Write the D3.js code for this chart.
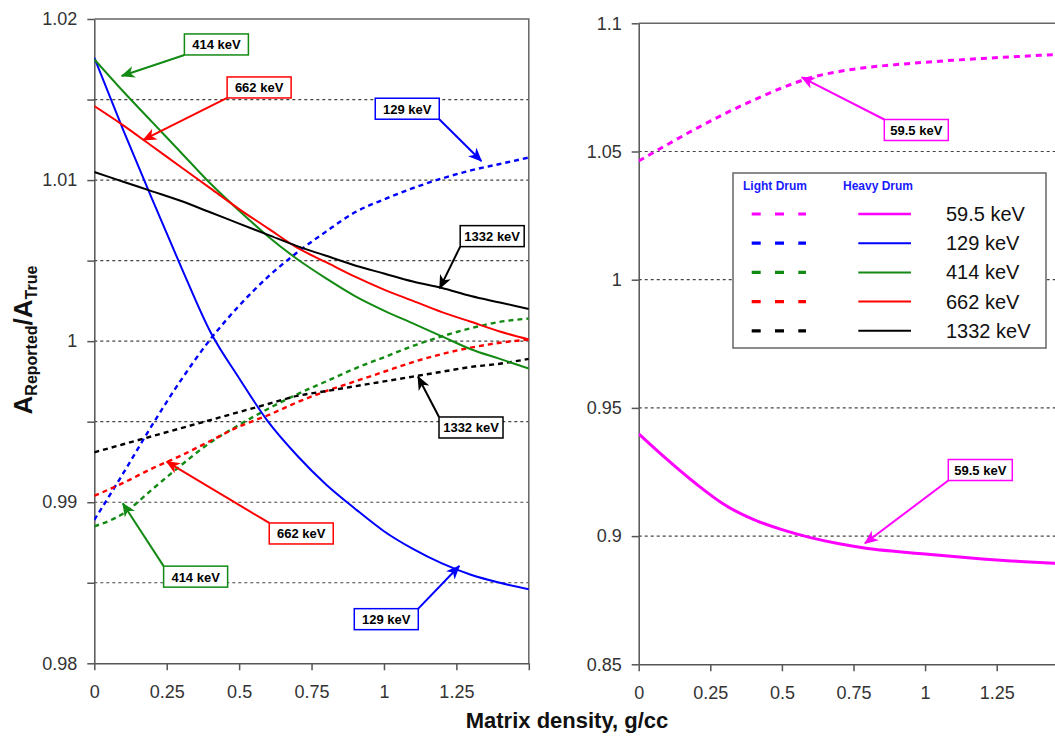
<!DOCTYPE html>
<html>
<head>
<meta charset="utf-8">
<script src="https://cdn.jsdelivr.net/npm/d3@7"></script>
<style>
  body { margin: 0; background: #fff; }
  svg { display: block; }
  text { font-family: "Liberation Sans", Arial, sans-serif; }
</style>
</head>
<body>
<div id="chart"></div>
<script>
// ━━━━━━━━━━━━━━━━━━━━━━━━━━━━━━━━━━━━━━━━━━━━━━━━━━━━━━━━━━━━━━━━━━━━━━━━━━━━━━
// Data ////////////////////////////////////////////////////
// ━━━━━━━━━━━━━━━━━━━━━━━━━━━━━━━━━━━━━━━━━━━━━━━━━━━━━━━━━━━━━━━━━━━━━━━━━━━━━━

const density = [0, 0.1, 0.2, 0.3, 0.4, 0.5, 0.6, 0.7, 0.8, 0.9, 1.0, 1.1, 1.2, 1.3, 1.4, 1.5];

// heavy drum (solid)
const heavy_129  = [1.0176, 1.0131, 1.0088, 1.0046, 1.0006, 0.9977, 0.9950, 0.9929, 0.9911, 0.9896, 0.9882, 0.9871, 0.9862, 0.9855, 0.9850, 0.9846];
const heavy_414  = [1.0175, 1.0155, 1.0136, 1.0117, 1.0098, 1.0081, 1.0065, 1.0051, 1.0039, 1.0028, 1.0019, 1.0011, 1.0003, 0.9995, 0.9989, 0.9983];
const heavy_662  = [1.0146, 1.0134, 1.0121, 1.0108, 1.0095, 1.0082, 1.0070, 1.0058, 1.0049, 1.0040, 1.0032, 1.0025, 1.0018, 1.0012, 1.0006, 1.0001];
const heavy_1332 = [1.0105, 1.0099, 1.0093, 1.0087, 1.0080, 1.0073, 1.0066, 1.0059, 1.0053, 1.0047, 1.0042, 1.0037, 1.0033, 1.0028, 1.0024, 1.0020];
const heavy_59   = [0.9399, 0.9298, 0.9204, 0.9122, 0.9065, 0.9025, 0.8994, 0.8970, 0.8952, 0.8940, 0.8930, 0.8920, 0.8911, 0.8903, 0.8897, 0.8891];

// light drum (dashed)
const light_129  = [0.9889, 0.9918, 0.9948, 0.9976, 1.0001, 1.0022, 1.0040, 1.0055, 1.0068, 1.0080, 1.0088, 1.0095, 1.0101, 1.0106, 1.0110, 1.0114];
const light_414  = [0.9885, 0.9893, 0.9908, 0.9923, 0.9937, 0.9948, 0.9958, 0.9967, 0.9975, 0.9983, 0.9990, 0.9997, 1.0003, 1.0008, 1.0012, 1.0014];
const light_662  = [0.9904, 0.9912, 0.9921, 0.9929, 0.9938, 0.9947, 0.9954, 0.9962, 0.9969, 0.9975, 0.9981, 0.9987, 0.9992, 0.9996, 0.9999, 1.0001];
const light_1332 = [0.9931, 0.9936, 0.9941, 0.9946, 0.9951, 0.9956, 0.9961, 0.9966, 0.9969, 0.9972, 0.9975, 0.9978, 0.9981, 0.9984, 0.9986, 0.9989];
const light_59   = [1.0463, 1.0527, 1.0589, 1.0647, 1.0700, 1.0748, 1.0788, 1.0812, 1.0828, 1.0839, 1.0848, 1.0856, 1.0863, 1.0869, 1.0875, 1.0880];

const energies = ['59.5 keV', '129 keV', '414 keV', '662 keV', '1332 keV'];
const colors   = ['#ff00ff', '#0000ff', '#138a13', '#ff0000', '#000000'];

const xTicks      = [0, 0.25, 0.5, 0.75, 1, 1.25, 1.5];
const yTicksLeft  = [0.98, 0.985, 0.99, 0.995, 1, 1.005, 1.01, 1.015, 1.02];
const yTicksRight = [0.85, 0.9, 0.95, 1, 1.05, 1.1];

// callouts: box centre and arrow tip in data units, corner the arrow leaves from
const calloutsLeft = [
  { label: '414 keV',  color: 2, bx: 0.4215, by: 1.01842, tx: 0.0945, ty: 1.01646, from: 'bl' },
  { label: '662 keV',  color: 3, bx: 0.569,  by: 1.01575, tx: 0.169,  ty: 1.01249, from: 'bl' },
  { label: '129 keV',  color: 1, bx: 1.0804, by: 1.01443, tx: 1.3363, ty: 1.01118, from: 'br' },
  { label: '1332 keV', color: 4, bx: 1.3736, by: 1.00652, tx: 1.1925, ty: 1.00328, from: 'bl' },
  { label: '1332 keV', color: 4, bx: 1.3005, by: 0.99464, tx: 1.1176, ty: 0.99779, from: 'tl' },
  { label: '662 keV',  color: 3, bx: 0.7144, by: 0.98806, tx: 0.2497, ty: 0.99252, from: 'tl' },
  { label: '414 keV',  color: 2, bx: 0.3498, by: 0.98538, tx: 0.0983, ty: 0.98993, from: 'tl' },
  { label: '129 keV',  color: 1, bx: 1.008,  by: 0.98274, tx: 1.260,  ty: 0.98604, from: 'tr' }
];
const calloutsRight = [
  { label: '59.5 keV', color: 0, bx: 0.9693, by: 1.05839, tx: 0.5691, ty: 1.07894, from: 'tl' },
  { label: '59.5 keV', color: 0, bx: 1.1927, by: 0.92578, tx: 0.790,  ty: 0.8972,  from: 'bl' }
];

// ━━━━━━━━━━━━━━━━━━━━━━━━━━━━━━━━━━━━━━━━━━━━━━━━━━━━━━━━━━━━━━━━━━━━━━━━━━━━━━
// SVG setup /////////////////////////////////////////////////////////////////////
// ━━━━━━━━━━━━━━━━━━━━━━━━━━━━━━━━━━━━━━━━━━━━━━━━━━━━━━━━━━━━━━━━━━━━━━━━━━━━━━

const width = 1055;
const height = 736;

const svg = d3.select('#chart').append('svg')
  .attr('width', width)
  .attr('height', height)
  .attr('viewBox', [0, 0, width, height]);

svg.append('rect').attr('width', width).attr('height', height).attr('fill', '#fff');

const defs = svg.append('defs');

colors.forEach((c, i) => {
  defs.append('marker')
    .attr('id', 'arrow-' + i)
    .attr('markerUnits', 'userSpaceOnUse')
    .attr('viewBox', '0 0 14 12')
    .attr('refX', 13).attr('refY', 6)
    .attr('markerWidth', 14).attr('markerHeight', 12)
    .attr('orient', 'auto')
    .append('path')
    .attr('d', 'M0,0 L14,6 L0,12 L4,6 Z')
    .attr('fill', c);
});

// scales
const xLeft  = d3.scaleLinear().domain([0, 1.5]).range([94.3, 528.8]);
const yLeft  = d3.scaleLinear().domain([0.98, 1.02]).range([663.3, 19]);
const xRight = d3.scaleLinear().domain([0, 1.5]).range([638.7, 1068.3]);
const yRight = d3.scaleLinear().domain([0.85, 1.1]).range([664.3, 23.3]);

const fmt = v => String(+v.toFixed(3));

// ━━━━━━━━━━━━━━━━━━━━━━━━━━━━━━━━━━━━━━━━━━━━━━━━━━━━━━━━━━━━━━━━━━━━━━━━━━━━━━
// Panel drawing /////////////////////////////////////////////////////////////////
// ━━━━━━━━━━━━━━━━━━━━━━━━━━━━━━━━━━━━━━━━━━━━━━━━━━━━━━━━━━━━━━━━━━━━━━━━━━━━━━

function drawFrame(g, x, y, yTicks, yLabel) {
  // dashed gridlines
  g.append('g').selectAll('line')
    .data(yTicks.slice(1, -1))
    .join('line')
    .attr('x1', x.range()[0]).attr('x2', x.range()[1])
    .attr('y1', d => y(d)).attr('y2', d => y(d))
    .attr('stroke', '#444')
    .attr('stroke-width', 1.2)
    .attr('stroke-dasharray', '3,3');

  // frame top + right
  g.append('path')
    .attr('d', `M${x.range()[0]},${y.range()[1]}H${x.range()[1]}V${y.range()[0]}`)
    .attr('fill', 'none')
    .attr('stroke', '#666')
    .attr('stroke-width', 1.5);

  const yAxis = d3.axisLeft(y)
    .tickValues(yTicks)
    .tickSize(7)
    .tickSizeOuter(0)
    .tickPadding(10)
    .tickFormat(yLabel);

  const xAxis = d3.axisBottom(x)
    .tickValues(xTicks)
    .tickSize(7)
    .tickSizeOuter(0)
    .tickPadding(15)
    .tickFormat(d => d === 1.5 ? '' : fmt(d));

  [g.append('g').attr('transform', `translate(${x.range()[0]},0)`).call(yAxis),
   g.append('g').attr('transform', `translate(0,${y.range()[0]})`).call(xAxis)]
    .forEach(a => {
      a.select('.domain').attr('stroke', '#555').attr('stroke-width', 1.5);
      a.selectAll('.tick line').attr('stroke', '#555').attr('stroke-width', 1.5);
      a.selectAll('.tick text')
        .attr('fill', '#333')
        .style('font-size', '18px')
        .style('font-family', '"Liberation Sans", Arial, sans-serif');
    });
}

function drawCurve(g, x, y, values, color, dashed, clipId, wide) {
  const line = d3.line()
    .x((d, i) => x(density[i]))
    .y(d => y(d))
    .curve(d3.curveMonotoneX);

  g.append('path')
    .datum(values)
    .attr('clip-path', `url(#${clipId})`)
    .attr('d', line)
    .attr('fill', 'none')
    .attr('stroke', color)
    .attr('stroke-width', wide ? 3 : (dashed ? 2.4 : 2))
    .attr('stroke-dasharray', dashed ? (wide ? '6,5' : '5,4') : null)
    .attr('stroke-linejoin', 'round');
}

function drawCallouts(g, x, y, list) {
  const bw = 64, bh = 21;
  list.forEach(c => {
    const cx = x(c.bx), cy = y(c.by);
    const sx = cx + (c.from[1] === 'l' ? -bw / 2 : bw / 2);
    const sy = cy + (c.from[0] === 't' ? -bh / 2 : bh / 2);

    g.append('line')
      .attr('x1', sx).attr('y1', sy)
      .attr('x2', x(c.tx)).attr('y2', y(c.ty))
      .attr('stroke', colors[c.color])
      .attr('stroke-width', 2)
      .attr('marker-end', `url(#arrow-${c.color})`);

    g.append('rect')
      .attr('x', cx - bw / 2).attr('y', cy - bh / 2)
      .attr('width', bw).attr('height', bh)
      .attr('fill', '#fff')
      .attr('stroke', colors[c.color])
      .attr('stroke-width', 1.5);

    g.append('text')
      .attr('x', cx).attr('y', cy + 5)
      .attr('text-anchor', 'middle')
      .attr('font-size', 13)
      .attr('font-weight', 'bold')
      .attr('fill', '#000')
      .text(c.label);
  });
}

function addClip(id, x, y) {
  defs.append('clipPath').attr('id', id)
    .append('rect')
    .attr('x', x.range()[0]).attr('y', y.range()[1])
    .attr('width', x.range()[1] - x.range()[0])
    .attr('height', y.range()[0] - y.range()[1]);
}

// Left panel ////////////////////////////////////////////////////////////////////

const left = svg.append('g').attr('id', 'panel-left');
addClip('clip-left', xLeft, yLeft);
drawFrame(left, xLeft, yLeft, yTicksLeft, d => (Math.round(d * 1000) % 10 === 0 ? fmt(d) : ''));

drawCurve(left, xLeft, yLeft, light_129,  colors[1], true,  'clip-left');
drawCurve(left, xLeft, yLeft, light_414,  colors[2], true,  'clip-left');
drawCurve(left, xLeft, yLeft, light_662,  colors[3], true,  'clip-left');
drawCurve(left, xLeft, yLeft, light_1332, colors[4], true,  'clip-left');
drawCurve(left, xLeft, yLeft, heavy_129,  colors[1], false, 'clip-left');
drawCurve(left, xLeft, yLeft, heavy_414,  colors[2], false, 'clip-left');
drawCurve(left, xLeft, yLeft, heavy_662,  colors[3], false, 'clip-left');
drawCurve(left, xLeft, yLeft, heavy_1332, colors[4], false, 'clip-left');

drawCallouts(left, xLeft, yLeft, calloutsLeft);

// Right panel ///////////////////////////////////////////////////////////////////

const right = svg.append('g').attr('id', 'panel-right');
addClip('clip-right', xRight, yRight);
drawFrame(right, xRight, yRight, yTicksRight, fmt);

drawCurve(right, xRight, yRight, light_59, colors[0], true,  'clip-right', true);
drawCurve(right, xRight, yRight, heavy_59, colors[0], false, 'clip-right', true);

drawCallouts(right, xRight, yRight, calloutsRight);

// Legend ////////////////////////////////////////////////////////////////////////

const legend = svg.append('g').attr('id', 'legend').attr('transform', 'translate(733,173)');

legend.append('rect')
  .attr('width', 313).attr('height', 175)
  .attr('fill', '#fff')
  .attr('stroke', '#666')
  .attr('stroke-width', 1.5);

legend.append('text').attr('x', 10).attr('y', 17)
  .attr('font-size', 12).attr('font-weight', 'bold').attr('fill', '#1a1aff')
  .text('Light Drum');
legend.append('text').attr('x', 110).attr('y', 17)
  .attr('font-size', 12).attr('font-weight', 'bold').attr('fill', '#1a1aff')
  .text('Heavy Drum');

const rows = legend.selectAll('g.row')
  .data(energies)
  .join('g')
  .attr('class', 'row')
  .attr('transform', (d, i) => `translate(0,${41 + i * 29.2})`);

rows.append('line')
  .attr('x1', 18.7).attr('x2', 73)
  .attr('stroke', (d, i) => colors[i])
  .attr('stroke-width', 3.2)
  .attr('stroke-dasharray', '9,14.3');

rows.append('line')
  .attr('x1', 125.3).attr('x2', 178)
  .attr('stroke', (d, i) => colors[i])
  .attr('stroke-width', (d, i) => i === 0 ? 2.6 : 2);

rows.append('text')
  .attr('x', 213).attr('y', 7)
  .attr('font-size', 20)
  .attr('fill', '#111')
  .text(d => d);

// Axis titles ///////////////////////////////////////////////////////////////////

svg.append('text')
  .attr('x', 567).attr('y', 728)
  .attr('text-anchor', 'middle')
  .attr('font-size', 22)
  .attr('font-weight', 'bold')
  .attr('fill', '#111')
  .text('Matrix density, g/cc');

const ylab = svg.append('text')
  .attr('transform', 'translate(32,340) rotate(-90)')
  .attr('text-anchor', 'middle')
  .attr('font-weight', 'bold')
  .attr('fill', '#111');
ylab.append('tspan').attr('font-size', 26).text('A');
ylab.append('tspan').attr('font-size', 16).attr('dy', 5).text('Reported');
ylab.append('tspan').attr('font-size', 26).attr('dy', -5).text('/A');
ylab.append('tspan').attr('font-size', 16).attr('dy', 5).text('True');
</script>
</body>
</html>
